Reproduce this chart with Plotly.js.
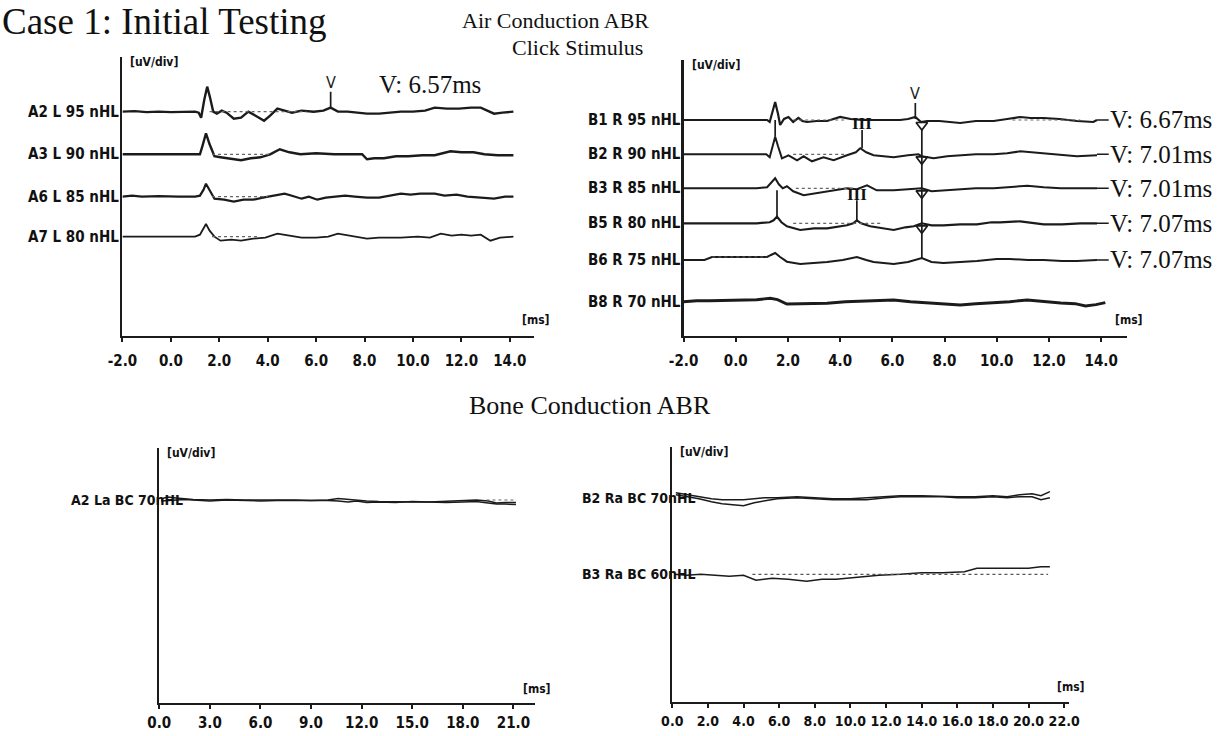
<!DOCTYPE html>
<html>
<head>
<meta charset="utf-8">
<script src="https://cdn.plot.ly/plotly-3.0.1.min.js"></script>
<style>html,body{margin:0;padding:0;background:#fff;}#chart{width:1227px;height:736px;}</style>
</head>
<body>
<div id="chart"></div>
<script>
// ---------------- DATA ----------------
// Air conduction, left ear (time in ms, deflection in display units)
const labelsAL = ['A2 L 95 nHL', 'A3 L 90 nHL', 'A6 L 85 nHL', 'A7 L 80 nHL'];
const tA2 = [-2,-1.5,-1,-0.5,0,0.5,1.0,1.15,1.25,1.38,1.5,1.62,1.75,1.9,2.1,2.3,2.6,2.9,3.2,3.5,3.85,4.1,4.4,4.7,5.0,5.4,5.9,6.3,6.6,6.9,7.3,7.7,8.1,8.6,9.0,9.5,10.0,10.5,10.9,11.4,11.9,12.4,12.8,13.1,13.35,13.7,14.15];
const yA2 = [0,0.5,-0.5,0,-0.5,0,0,-1,-6,12,25,14,0,-2,1,-1,-7,-6,0,-4,-9,-4,3,1,-1,1,0,1,4,0,0,-1,-2,-2,-1,0,0,1,4,3,3,4,4,1,-2,-1,0];
const tA3 = [-2,-1,0,1.0,1.2,1.3,1.45,1.6,1.8,2.05,2.4,2.9,3.3,3.7,4.1,4.5,4.9,5.35,6.0,6.75,7.4,7.9,8.1,8.4,8.8,9.3,9.8,10.4,10.9,11.2,11.55,12.0,12.5,12.95,13.5,14.15];
const yA3 = [0,0,0,0,0,8,21,10,-2,-3,-4,-6,-4,-3,0,5,2,0,1,0,0,0,-5,-4,-4,-2,-2,-1,-1,1,3,2,2,0,-1,-1];
const tA6 = [-2,-1.6,-1.2,-0.5,0.3,1.0,1.2,1.35,1.45,1.6,1.8,2.2,2.6,3.0,3.4,3.8,4.3,4.7,5.0,5.4,5.7,6.05,6.4,6.75,7.2,7.6,8.1,8.6,9.0,9.5,9.9,10.3,10.9,11.3,11.8,12.25,12.8,13.35,13.8,14.15];
const yA6 = [0,1,0,0.5,0,0,1,7,13,6,-2,-3,-5,-3,-3,-1,1,3,1,-2,0,-3,-1,0,1,0,-1,-1,1,3,2,3,3,1,2,0,-1,-2,0,0];
const tA7 = [-2,-1,0,1.0,1.2,1.35,1.45,1.6,1.8,2.05,2.5,2.9,3.4,3.9,4.4,4.9,5.4,6.0,6.5,6.9,7.4,8.1,8.6,9.5,10.2,10.7,11.15,11.6,12.0,12.4,12.8,13.2,13.6,14.15];
const yA7 = [0,0,0,0,2,9,12.7,6,0,-4,-3,-4,-2,-1,3,1,-1,-1,0,3,1,-2,-1,-1,0,-1,3,1,2,1,2,-4,-1,0];
const waveVLeft = 6.6;            // marker position on A2 trace (ms)
const latencyLeft = '6.57';

// Air conduction, right ear
const labelsAR = ['B1 R 95 nHL', 'B2 R 90 nHL', 'B3 R 85 nHL', 'B5 R 80 nHL', 'B6 R 75 nHL', 'B8 R 70 nHL'];
const tB1 = [-2,-1,0,0.8,1.2,1.3,1.4,1.51,1.62,1.7,1.85,2.02,2.2,2.4,2.55,2.73,3.1,3.5,4.0,4.4,4.84,5.4,5.9,6.3,6.6,6.88,7.1,7.33,7.8,8.2,8.6,9.2,9.88,10.4,10.9,11.3,11.8,12.4,13.07,13.7,13.84];
const yB1 = [0,0,0,0,0,-2,8,18,6,-5,1,3,-2,2,-1,-2,-1,-1,3,1,0,0,0,0,1,3,-2,-1,-1,-2,-3,-1,-1,1,3,2,2,1,-1,-2,0];
const tB2 = [-2,-1,0,0.8,1.17,1.3,1.4,1.51,1.62,1.77,2.02,2.2,2.35,2.6,2.92,3.36,3.75,4.26,4.6,4.77,5.0,5.28,6.05,6.6,7.0,7.13,7.3,7.58,8.1,8.6,9.2,9.88,10.4,10.9,11.8,12.5,13.07,13.84];
const yB2 = [0,0,0,0,0,-3,8,17.6,8,-4,-1,-4,-6,-2,-7,-3,-6,-1,2,6,2,-1,-3,-1,0,-2,-3,-4,-2,-1,0,0,1,3,1,0,-2,-1];
const tB3 = [-2,-1,0,0.8,1.2,1.35,1.51,1.65,1.8,1.96,2.2,2.6,3.1,3.75,4.26,4.64,5.03,5.4,6.05,6.6,7.13,7.5,7.96,8.6,9.2,9.88,10.5,11.17,11.8,12.45,13.2,13.84];
const yB3 = [0,0,0,0,1,5,10,4,0,2,-3,-7,-5,-2,0,-1,3,-2,-2,-1,0,-3,-2,-1,0,0,1,2.6,1,0,0,0];
const tB5 = [-2,-1,0,0.8,1.3,1.45,1.58,1.75,1.96,2.47,3.0,3.5,4.26,4.5,4.64,4.8,5.15,5.6,6.05,6.5,6.82,7.13,7.5,7.96,8.6,9.24,9.8,10.13,10.9,11.8,12.5,13.2,13.84];
const yB5 = [0,0,0,0,1,3,6.7,1,-3,-6.7,-5,-5,-2,0,3,0,-3,-5,-6.7,-4,-3,0,-2,-2,-1,-1,1,1,2,-1,-1,0,0];
const tB6 = [-2,-1.2,-0.91,0,0.8,1.2,1.35,1.51,1.7,1.96,2.47,3.0,3.5,4.1,4.64,5.0,5.28,6.05,6.6,7.13,7.5,7.96,8.6,9.24,10.0,10.5,11.2,11.8,12.5,13.07,13.84];
const yB6 = [0,0,3,3,3,3,5,7,3,-1.7,-4,-3,-2,0,3,0,-2,-4,-2,2,-2,-3,-2,-1,1,1,0,0,-1,-1,0];
const tB8 = [-2,-1.5,-1,0,0.8,1.32,1.6,1.96,2.5,3.0,3.5,4.2,5.0,6.05,6.7,7.33,8.0,8.6,9.2,9.88,10.5,11.17,11.8,12.45,13.0,13.4,13.8,14.16];
const yB8 = [0,1,1,1.5,2,3.4,2,-2.3,-2,-1.5,-1.5,0,1,1.7,0,-1.3,-2,-3.3,-2,-1.3,0,1.7,0,-1.3,-2,-4.3,-3,-1];
const latencyRight = ['6.67', '7.01', '7.01', '7.07', '7.07'];
const waveVRightText = 6.88;      // "V" label on B1 (ms)
const waveVRight = 7.13;          // V markers on B1..B5 (ms)
const waveIIIRight = [4.84, 4.64];// III on B1 and B3 (ms)
const waveIRight = [1.51, 1.58];  // I connectors (ms)

// Bone conduction, left
const labelsBL = ['A2 La BC 70nHL'];
const tBCL = [0.1,0.5,1.0,1.5,2.0,3.0,4.0,5.0,6.0,7.0,8.0,9.0,10.0,10.6,11.2,11.7,12.3,13.0,14.0,15.0,16.0,17.0,18.0,18.8,19.5,20.0,20.5,21.15];
const yBCLa = [1,3,2,1,0.5,0,0.5,0,0,0.5,0,-0.5,0,1.5,0.5,0,-1,-1.5,-2,-2,-2,-1.5,-1,0,-1,-3,-2.5,-2.5];
const yBCLb = [-1,-0.5,0,0.5,0,-1,0,-0.5,-1,-0.5,-0.5,0,-0.5,-1,-2,-1,-2.5,-2,-2.5,-1.5,-2,-2.5,-2,-1.5,-3,-4,-4,-4.5];

// Bone conduction, right
const labelsBR = ['B2 Ra BC 70nHL', 'B3 Ra BC 60nHL'];
const tBCR2 = [0.2,0.86,1.5,2.2,2.8,3.4,4.0,4.6,5.2,5.9,7.0,8.0,9.0,10.0,10.9,12.0,12.8,14.0,15.2,16.0,17.0,18.0,18.8,19.5,20.2,20.7,21.2];
const yBCR2a = [5,3,1,-1,-2,-2,-2,-1,0,0,1,0,-1,-1,0,1,2,2,1,1,1,2,1,3,4,2,6];
const yBCR2b = [3,1,-1,-4,-6,-7,-8,-5,-3,-1,0,-1,-2,-2,-2,0,1,1,1,0,0,1,0,1,1,-2,0];
const tBCR3 = [0.1,0.8,1.6,2.4,3.2,4.0,4.7,5.6,6.5,7.55,8.4,9.2,10.4,11.6,12.8,14.0,15.2,16.4,17.1,17.6,18.5,19.3,20.0,20.7,21.2];
const yBCR3 = [0,-1,0,-1,-2,-1,-6,-4,-5,-7,-5,-5,-3,-1,0,1.6,1.5,2.6,6,6,6,6,6,7.6,7.6];

// Tick labels
const ticksAC = [-2,0,2,4,6,8,10,12,14];
const tickTextAC = ['-2.0','0.0','2.0','4.0','6.0','8.0','10.0','12.0','14.0'];
const ticksBCL = [0,3,6,9,12,15,18,21];
const tickTextBCL = ['0.0','3.0','6.0','9.0','12.0','15.0','18.0','21.0'];
const ticksBCR = [0,2,4,6,8,10,12,14,16,18,20,22];
const tickTextBCR = ['0.0','2.0','4.0','6.0','8.0','10.0','12.0','14.0','16.0','18.0','20.0','22.0'];

// ---------------- LAYOUT / STYLE ----------------
const NARROW = "'Liberation Sans Narrow', 'DejaVu Sans Condensed', 'Liberation Sans', sans-serif";
const SERIF = "'Liberation Serif', 'DejaVu Serif', serif";
const INK = '#1b1b1b';
// row baselines (in axis units = px above each panel's x-axis)
const baseAL = [224, 181.4, 139, 99];
const baseAR = [215.7, 181.4, 147.4, 112.4, 75.7, 34];
const baseBL = [203.3];
const baseBR = [204.6, 128];

const traces = [];
function wave(xa, ya, t, y, base, w) {
  traces.push({type:'scatter', mode:'lines', x:t, y:y.map(v => v + base), xaxis:xa, yaxis:ya,
    line:{color:INK, width:w || 2, shape:'linear'}, hoverinfo:'skip', showlegend:false});
}
function seg(xa, ya, xs, ys, w, dash, color) {
  traces.push({type:'scatter', mode:'lines', x:xs, y:ys, xaxis:xa, yaxis:ya,
    line:{color:color || INK, width:w || 1.5, dash:dash || 'solid'}, hoverinfo:'skip', showlegend:false});
}

// panel 1
const wL = [[tA2,yA2,2.4],[tA3,yA3,2.4],[tA6,yA6,2.2],[tA7,yA7,1.8]];
wL.forEach((d,i) => wave('x','y',d[0],d[1],baseAL[i],d[2]));
[[1.6,5.6],[1.7,4.2],[1.7,4.0],[1.7,3.6]].forEach((r,i)=>seg('x','y',r,[baseAL[i],baseAL[i]],1.2,'dot','#666'));
seg('x','y',[waveVLeft,waveVLeft],[baseAL[0]+3,baseAL[0]+20],1.7);

// panel 2
const wR = [[tB1,yB1,2.2],[tB2,yB2,2],[tB3,yB3,2],[tB5,yB5,2.2],[tB6,yB6,2],[tB8,yB8,2.9]];
wR.forEach((d,i) => wave('x2','y2',d[0],d[1],baseAR[i],d[2]));
[[2.2,4.2],[2.2,4.2],[2.3,4.5],[2.2,5.6],[-0.9,1.2]].forEach((r,i)=>seg('x2','y2',r,[baseAR[i]+(i===4?3:0),baseAR[i]+(i===4?3:0)],1.2,'dot','#666'));
seg('x2','y2',[10.6,13.2],[baseAR[0],baseAR[0]],1.2,'dot','#666');
seg('x2','y2',[waveVRightText,waveVRightText],[baseAR[0]+17,baseAR[0]+1],1.7);
seg('x2','y2',[waveVRight,waveVRight],[baseAR[0]-10,baseAR[4]+2],1.7);
traces.push({type:'scatter', mode:'markers', x:[waveVRight,waveVRight,waveVRight,waveVRight],
  y:[0,1,2,3].map(i=>baseAR[i]-5), xaxis:'x2', yaxis:'y2',
  marker:{symbol:'triangle-down-open', size:10, color:INK, line:{width:1.7, color:INK}},
  hoverinfo:'skip', showlegend:false});
seg('x2','y2',[waveIIIRight[0],waveIIIRight[0]],[baseAR[0]-10,baseAR[1]+6],1.7);
seg('x2','y2',[waveIIIRight[1],waveIIIRight[1]],[baseAR[2]-12,baseAR[3]+3],1.7);
seg('x2','y2',[waveIRight[0],waveIRight[0]],[baseAR[0],baseAR[1]+17.6],1.7);
seg('x2','y2',[waveIRight[1],waveIRight[1]],[baseAR[2]-2,baseAR[3]+6.7],1.7);
for (let i=0;i<5;i++) { const te = wR[i][0][wR[i][0].length-1]; seg('x2','y2',[te,te+0.45],[baseAR[i],baseAR[i]],1.6); }

// panel 3
wave('x3','y3',tBCL,yBCLa,baseBL[0],1.5);
wave('x3','y3',tBCL,yBCLb,baseBL[0],1.5);
seg('x3','y3',[19.4,21.1],[baseBL[0],baseBL[0]],1.2,'dot','#666');

// panel 4
wave('x4','y4',tBCR2,yBCR2a,baseBR[0],1.5);
wave('x4','y4',tBCR2,yBCR2b,baseBR[0],1.5);
wave('x4','y4',tBCR3,yBCR3,baseBR[1],1.6);
seg('x4','y4',[4.5,21.1],[baseBR[1],baseBR[1]],1.3,'dot','#555');

// axes
function xax(domain, range, tv, tt, fs, so) {
  return {domain:domain, range:range, showline:true, linewidth:2, linecolor:INK, mirror:false,
    tickmode:'array', tickvals:tv, ticktext:tt, ticks:'outside', ticklen:4, tickwidth:2, tickcolor:INK,
    ticklabelstandoff:so, tickfont:{family:NARROW, size:fs, color:'#111', weight:'bold'},
    showgrid:false, zeroline:false, fixedrange:true};
}
function yax(domain, range, anchor) {
  return {domain:domain, range:range, anchor:anchor, showline:true, linewidth:2.5, linecolor:INK,
    showticklabels:false, ticks:'', showgrid:false, zeroline:false, fixedrange:true};
}
const layout = {
  width:1227, height:736, margin:{l:0,r:0,t:0,b:0}, paper_bgcolor:'#fff', plot_bgcolor:'rgba(0,0,0,0)',
  showlegend:false,
  xaxis: Object.assign(xax([0.0998,0.4352],[-2,15],ticksAC,tickTextAC,15,6),{anchor:'y'}),
  yaxis: yax([0.5439,0.9230],[0,279],'x'),
  xaxis2: Object.assign(xax([0.5571,0.9187],[-2,15],ticksAC,tickTextAC,15,6),{anchor:'y2'}),
  yaxis2: yax([0.5439,0.9185],[0,275.7],'x2'),
  xaxis3: Object.assign(xax([0.1298,0.4363],[0,22.3],ticksBCL,tickTextBCL,15,1),{anchor:'y3'}),
  yaxis3: yax([0.0444,0.3913],[0,255.3],'x3'),
  xaxis4: Object.assign(xax([0.5479,0.8709],[0,22.25],ticksBCR,tickTextBCR,14,1),{anchor:'y4'}),
  yaxis4: yax([0.0458,0.3931],[0,255.6],'x4'),
  annotations: []
};
const ann = layout.annotations;
function txt(o) { ann.push(Object.assign({showarrow:false, font:{family:NARROW, size:16, color:INK}}, o)); }

// titles
txt({xref:'paper', yref:'paper', x:0, y:1-22/736, xanchor:'left', yanchor:'middle', text:'Case 1: Initial Testing', font:{family:SERIF, size:37, color:'#111'}});
txt({xref:'paper', yref:'paper', x:555/1227, y:1-20/736, xanchor:'center', yanchor:'middle', text:'Air Conduction ABR', font:{family:SERIF, size:22, color:'#111'}});
txt({xref:'paper', yref:'paper', x:577/1227, y:1-47/736, xanchor:'center', yanchor:'middle', text:'Click Stimulus', font:{family:SERIF, size:22, color:'#111'}});
txt({xref:'paper', yref:'paper', x:590/1227, y:1-405/736, xanchor:'center', yanchor:'middle', text:'Bone Conduction ABR', font:{family:SERIF, size:26, color:'#111'}});

// axis unit labels
[['x','y',-2],['x2','y2',-2],['x3','y3',0],['x4','y4',0]].forEach(a => {
  txt({xref:a[0], yref:a[1]+' domain', x:a[2], y:1, xanchor:'left', yanchor:'top', xshift:6, yshift:4, text:'[uV/div]', font:{family:NARROW, size:12, color:'#111', weight:'bold'}});
  txt({xref:a[0]+' domain', yref:a[1]+' domain', x:1, y:0.058, xanchor:'center', yanchor:'middle', xshift:2, text:'[ms]', font:{family:NARROW, size:12, color:'#111', weight:'bold'}});
});

// row labels
const rowFont = {family:NARROW, size:15, color:'#111', weight:'bold'};
const bcFont = {family:NARROW, size:14, color:'#111', weight:'bold'};
labelsAL.forEach((s,i)=>txt({xref:'x', yref:'y', x:-2, y:baseAL[i], xanchor:'right', yanchor:'middle', xshift:-1, text:s, font:rowFont}));
labelsAR.forEach((s,i)=>txt({xref:'x2', yref:'y2', x:-2, y:baseAR[i], xanchor:'right', yanchor:'middle', xshift:-1, text:s, font:rowFont}));
labelsBL.forEach((s,i)=>txt({xref:'x3', yref:'y3', x:0, y:baseBL[i], xanchor:'right', yanchor:'middle', xshift:26, text:s, font:bcFont}));
labelsBR.forEach((s,i)=>txt({xref:'x4', yref:'y4', x:0, y:baseBR[i], xanchor:'right', yanchor:'middle', xshift:26, text:s, font:bcFont}));

// wave markers text
txt({xref:'x', yref:'y', x:waveVLeft, y:baseAL[0]+29, text:'V', font:{family:NARROW, size:16, color:INK}});
txt({xref:'x', yref:'y', x:8.5, y:baseAL[0]+27, xanchor:'left', yanchor:'middle', text:'V: '+latencyLeft+'ms', font:{family:SERIF, size:25, color:'#111'}});
txt({xref:'x2', yref:'y2', x:waveVRightText, y:baseAR[0]+26, text:'V', font:{family:NARROW, size:16, color:INK}});
txt({xref:'x2', yref:'y2', x:waveIIIRight[0], y:baseAR[0]-4, text:'III', font:{family:SERIF, size:17, color:'#111', weight:'bold'}});
txt({xref:'x2', yref:'y2', x:waveIIIRight[1], y:baseAR[2]-6, text:'III', font:{family:SERIF, size:17, color:'#111', weight:'bold'}});
latencyRight.forEach((s,i)=>{
  const te = wR[i][0][wR[i][0].length-1];
  txt({xref:'x2', yref:'y2', x:te+0.45, y:baseAR[i], xanchor:'left', yanchor:'middle', xshift:-1, text:'V: '+s+'ms', font:{family:SERIF, size:25, color:'#111'}});
});

Plotly.newPlot('chart', traces, layout, {staticPlot:true, displayModeBar:false});
</script>
</body>
</html>
